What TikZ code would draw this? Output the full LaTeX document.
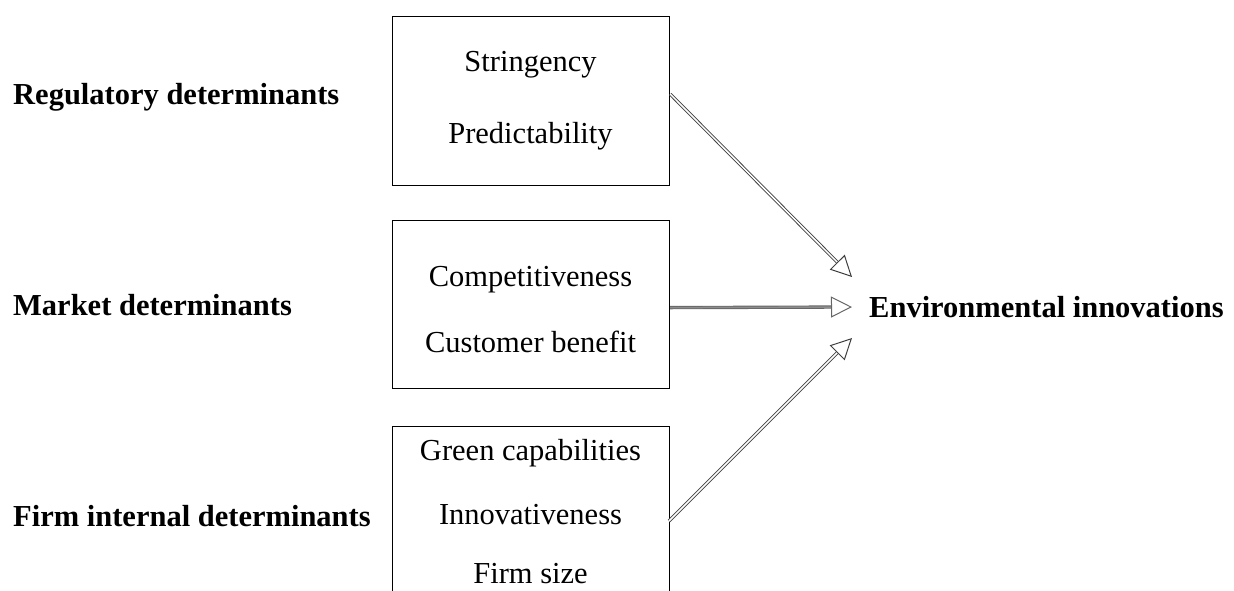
\documentclass[tikz,border=0pt]{standalone}
\usepackage{fontspec}
\setmainfont{Liberation Serif}
\usetikzlibrary{arrows.meta}
\begin{document}
\begin{tikzpicture}[x=1pt,y=-1pt,
  every node/.style={font=\fontsize{30.5}{36}\selectfont},
  boxnode/.style={draw,line width=1.2pt,inner sep=0pt,anchor=north west},
  item/.style={inner sep=0pt},
  heading/.style={inner sep=0pt,anchor=west,font=\fontsize{30.5}{36}\selectfont\bfseries},
  flow/.style={draw=black!75,line width=0.9pt,double=white,double distance=1.5pt,
    -{Triangle[open,length=21pt,width=21pt,line width=1pt]}}]
\useasboundingbox (0,0) rectangle (1234,590);
\clip (0,0) rectangle (1234,590);
% determinant boxes
\node[boxnode,minimum width=277pt,minimum height=169pt] (reg) at (392,16) {};
\node[boxnode,minimum width=277pt,minimum height=168pt] (mkt) at (392,220) {};
\node[boxnode,minimum width=277pt,minimum height=200pt] (firm) at (392,426) {};
% box contents
\node[item] (s1) at (530.5,65) {Stringency};
\node[item] (s2) at (530.5,136) {Predictability};
\node[item] (m1) at (530.5,280) {Competitiveness};
\node[item] (m2) at (530.5,342) {Customer benefit};
\node[item] (f1) at (530.5,453) {Green capabilities};
\node[item] (f2) at (530.5,515) {Innovativeness};
\node[item] (f3) at (530.5,574) {Firm size};
% row headings
\node[heading] (hreg) at (13,97) {Regulatory determinants};
\node[heading] (hmkt) at (13,305) {Market determinants};
\node[heading] (hfirm) at (13,516) {Firm internal determinants};
\node[heading] (env) at (869,307) {Environmental innovations};
% arrow tips in front of the outcome
\coordinate (t1) at (852,277);
\coordinate (t2) at (852,307);
\coordinate (t3) at (852,338);
\coordinate (r1) at ([yshift=7pt]reg.east);
\coordinate (r2) at ([yshift=-3pt]mkt.east);
\coordinate (r3) at (669,521);
\draw[flow] (r1) -- (t1);
\draw[flow,draw=black!60,double=black!45] (r2) -- (t2);
\draw[flow] (r3) -- (t3);
\end{tikzpicture}
\end{document}
